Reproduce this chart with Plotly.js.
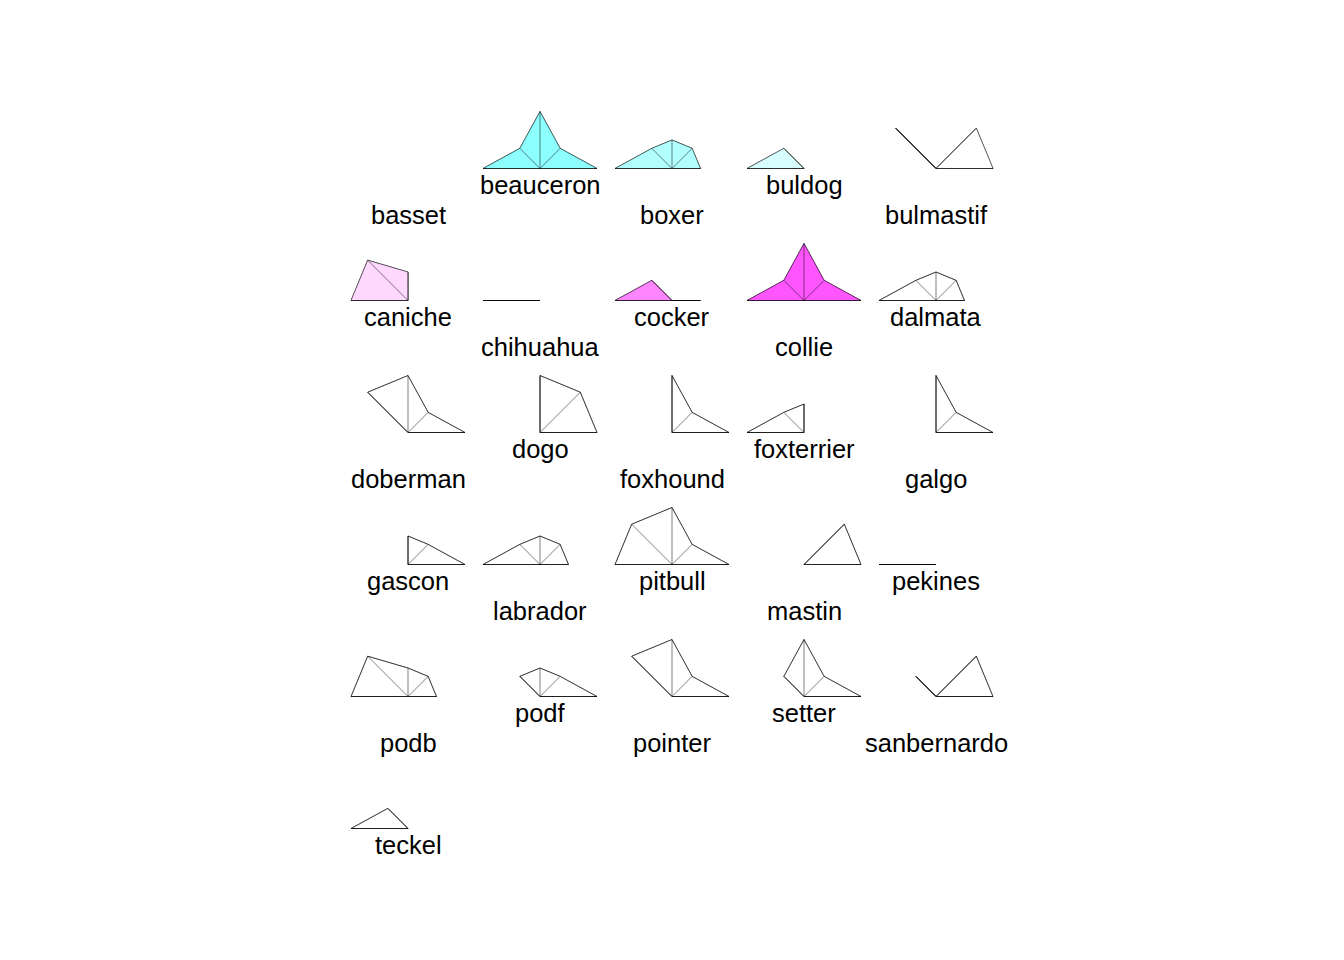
<!DOCTYPE html>
<html>
<head>
<meta charset="utf-8">
<script src="https://cdn.plot.ly/plotly-3.0.1.min.js"></script>
<style>html,body{margin:0;padding:0;background:#fff;}</style>
</head>
<body>
<div id="chart" style="width:1344px;height:960px;"></div>
<script>
// Breeds (R stars(), half stars, scaled 0..1)
const breeds = ["basset","beauceron","boxer","buldog","bulmastif","caniche","chihuahua","cocker","collie","dalmata",
  "doberman","dogo","foxhound","foxterrier","galgo","gascon","labrador","pitbull","mastin","pekines",
  "podb","podf","pointer","setter","sanbernardo","teckel"];
// variables (angle 0, 45, 90, 135, 180 degrees)
const taille       = [0,1,0.5,0,1, 0,0,0.5,1,0.5, 1,1,1,0,1, 1,0.5,1,1,0, 0.5,1,1,1,1, 0];
const poids        = [0,0.5,0.5,0,1, 0,0,0,0.5,0.5, 0.5,1,0.5,0,0.5, 0.5,0.5,0.5,1,0, 0.5,0.5,0.5,0.5,1, 0];
const velocite     = [0,1,0.5,0,0, 0.5,0,0,1,0.5, 1,1,1,0.5,1, 0.5,0.5,1,0,0, 0.5,0.5,1,1,0, 0];
const intelligence = [0,0.5,0.5,0.5,1, 1,0,0.5,0.5,0.5, 1,0,0,0.5,0, 0,0.5,1,0,0, 1,0.5,1,0.5,0.5, 0.5];
const affection    = [0,1,1,1,0, 1,1,1,1,1, 0,0,0,1,0, 0,1,1,0,1, 1,0,0,0,0, 1];
const fillColors = ["#68FFFF","#8DFFFF","#B2FFFF","#D8FFFF","#FFFFFF","#FFD8FF","#FFB2FF","#FF85FF","#FF55FF"];

const vars = [taille, poids, velocite, intelligence, affection];
const nVar = vars.length;
const R = 57, DX = 132, DY = 132, X0 = 408, Y0 = 168.5, NCOL = 5;

const traces = [];
const annotations = [];
breeds.forEach((name, i) => {
  const col = i % NCOL, row = Math.floor(i / NCOL);
  const cx = X0 + col * DX, cy = Y0 + row * DY;
  const px = [], py = [];
  for (let k = 0; k < nVar; k++) {
    const a = Math.PI * k / (nVar - 1);
    const v = vars[k][i];
    px.push(cx + R * v * Math.cos(a));
    py.push(cy - R * v * Math.sin(a));
  }
  const polyX = px.concat([px[0]]), polyY = py.concat([py[0]]);
  const fc = i < fillColors.length ? fillColors[i] : "rgba(0,0,0,0)";
  for (let rep = 0; rep < 2; rep++) {
    traces.push({type: "scatter", mode: "lines", x: polyX, y: polyY,
      fill: "toself", fillcolor: fc, line: {color: "#000", width: 0.5}, hoverinfo: "skip"});
  }
  const sx = [], sy = [];
  for (let k = 0; k < nVar; k++) { sx.push(cx, px[k], null); sy.push(cy, py[k], null); }
  traces.push({type: "scatter", mode: "lines", x: sx, y: sy,
    line: {color: "#000", width: 0.5}, hoverinfo: "skip"});
  annotations.push({x: cx, y: cy + (i % 2 === 0 ? 46.5 : 16.5), xref: "x", yref: "y",
    text: name, showarrow: false, xanchor: "center", yanchor: "middle",
    font: {family: "Liberation Sans, Arial, sans-serif", size: 25.5, color: "#000"}});
});

const layout = {
  width: 1344, height: 960,
  margin: {l: 0, r: 0, t: 0, b: 0},
  paper_bgcolor: "#fff", plot_bgcolor: "#fff",
  showlegend: false,
  xaxis: {range: [0, 1344], visible: false, fixedrange: true},
  yaxis: {range: [960, 0], visible: false, fixedrange: true},
  annotations: annotations
};
Plotly.newPlot("chart", traces, layout, {staticPlot: true, displayModeBar: false});
</script>
</body>
</html>
